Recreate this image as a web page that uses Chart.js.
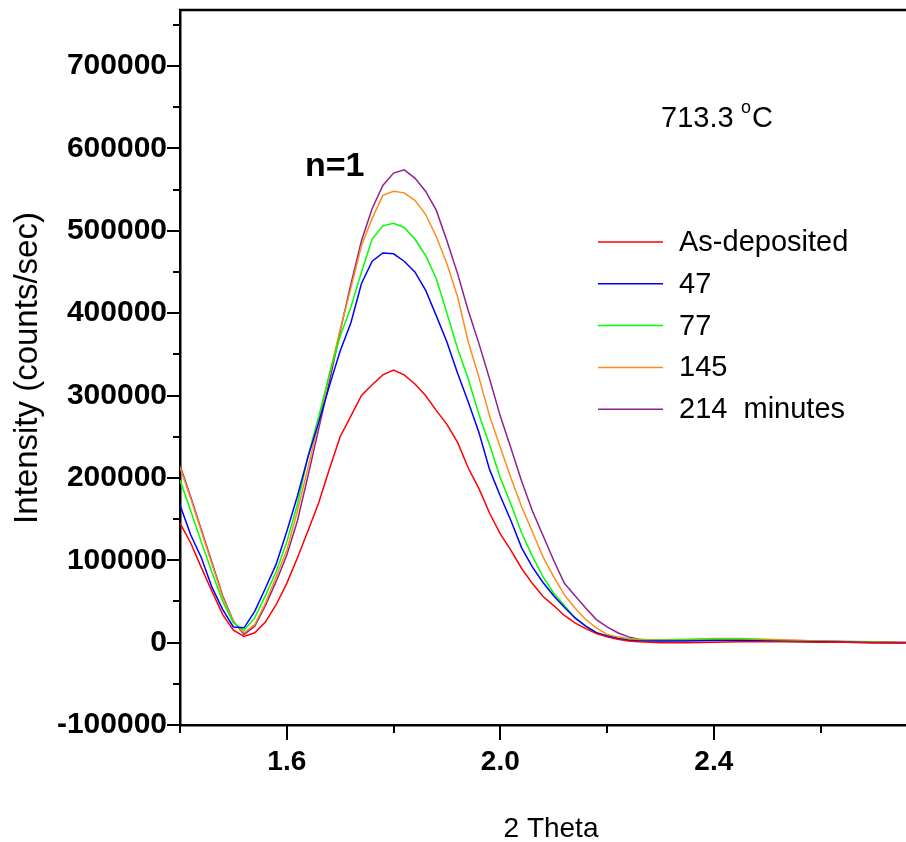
<!DOCTYPE html>
<html>
<head>
<meta charset="utf-8">
<title>Intensity x 2 Theta</title>
<script src="https://cdn.jsdelivr.net/npm/chart.js@4.4.0/dist/chart.umd.min.js"></script>
<style>
    body { margin: 0; background: #ffffff; }
    #grafico { display: block; }
</style>
</head>
<body>
<canvas id="grafico" width="906" height="842"></canvas>
<script>
// Eixo X (2 Theta) - mesma grade para todas as curvas
const doisTheta = [
    1.40, 1.42, 1.44, 1.46, 1.48, 1.50, 1.52, 1.54, 1.56, 1.58,
    1.60, 1.62, 1.64, 1.66, 1.68, 1.70, 1.72, 1.74, 1.76, 1.78,
    1.80, 1.82, 1.84, 1.86, 1.88, 1.90, 1.92, 1.94, 1.96, 1.98,
    2.00, 2.02, 2.04, 2.06, 2.08, 2.10, 2.12, 2.14, 2.16, 2.18,
    2.20, 2.22, 2.24, 2.26, 2.28, 2.30, 2.35, 2.40, 2.45, 2.50,
    2.55, 2.60, 2.65, 2.70, 2.75, 2.76
];

// Intensidade (counts/sec) de cada curva
const asDeposited = [
    145000, 121000, 91000, 62000, 34000, 15000, 7500, 12000, 25000, 46000,
    72000, 103000, 136000, 170000, 211000, 250000, 275000, 300000, 313000, 325000,
    331000, 325000, 314000, 300000, 282000, 265000, 243000, 212000, 187000, 157000,
    132000, 112000, 90000, 72000, 56000, 45000, 33000, 24000, 17000, 11000,
    7000, 4000, 2000, 1000, 500, 0, 0, 500, 1000, 1000,
    1000, 500, 500, 0, 0, 0
];
const min47 = [
    167000, 131000, 103000, 67000, 40000, 19000, 18000, 38000, 66000, 95000,
    135000, 178000, 226000, 268000, 312000, 354000, 388000, 436000, 463000, 473000,
    472000, 463000, 450000, 428000, 397000, 365000, 327000, 292000, 255000, 210000,
    178000, 148000, 115000, 92000, 73000, 57000, 43000, 30000, 20000, 12000,
    8000, 5000, 3000, 2000, 2000, 2000, 2000, 2500, 2500, 2000,
    1500, 1000, 500, 0, 0, 0
];
const min77 = [
    197000, 160000, 122000, 85000, 50000, 24000, 15000, 30000, 57000, 86000,
    122000, 168000, 227000, 275000, 326000, 372000, 407000, 450000, 490000, 506000,
    509000, 504000, 490000, 470000, 442000, 400000, 357000, 320000, 277000, 240000,
    200000, 168000, 133000, 105000, 80000, 60000, 45000, 30000, 20000, 12000,
    8000, 5000, 3500, 3000, 3000, 3000, 3500, 4000, 4000, 3000,
    2000, 1500, 1000, 500, 0, 0
];
const min145 = [
    213000, 175000, 135000, 95000, 55000, 25000, 12000, 22000, 48000, 80000,
    112000, 160000, 213000, 268000, 326000, 380000, 430000, 482000, 515000, 543000,
    548000, 546000, 537000, 520000, 493000, 460000, 420000, 365000, 322000, 275000,
    237000, 200000, 165000, 135000, 104000, 80000, 58000, 42000, 28000, 18000,
    10000, 7000, 5000, 4000, 3500, 3500, 4000, 5000, 5000, 4000,
    3000, 2000, 1000, 500, 0, 0
];
const min214 = [
    215000, 177000, 137000, 97000, 57000, 26000, 10000, 20000, 45000, 74000,
    106000, 148000, 203000, 260000, 317000, 378000, 435000, 488000, 527000, 555000,
    570000, 574000, 564000, 548000, 525000, 488000, 448000, 403000, 363000, 320000,
    275000, 236000, 196000, 160000, 130000, 100000, 72000, 57000, 42000, 28000,
    19000, 12000, 7000, 4000, 3000, 2500, 3000, 3500, 3500, 3000,
    2500, 2000, 1500, 1000, 500, 500
];

const nomesSeries = ['As-deposited', '47', '77', '145', '214  minutes'];
const coresSeries = ['#ff0000', '#0000ff', '#00ff00', '#ff8c1a', '#8e238e'];

// marcas dos eixos
const ticksPrincipaisX = [1.6, 2.0, 2.4];
const ticksSecundariosX = [1.4, 1.8, 2.2, 2.6];
const ticksPrincipaisY = [-100000, 0, 100000, 200000, 300000, 400000, 500000, 600000, 700000];
const ticksSecundariosY = [-50000, 50000, 150000, 250000, 350000, 450000, 550000, 650000, 750000];

const fonte = 'Arial, "Liberation Sans", Helvetica, sans-serif';

function montarPontos(valores) {
    let pontos = [];
    for (let i = 0; i < doisTheta.length; i++) {
        pontos.push({ x: doisTheta[i], y: valores[i] });
    }
    return pontos;
}

// tira o espaco extra que o Chart.js reserva para os rotulos das pontas
function zerarPadding(escala) {
    escala.paddingTop = 0;
    escala.paddingBottom = 0;
    escala.paddingLeft = 0;
    escala.paddingRight = 0;
}

// desenha moldura, marcas, legenda e textos
const pluginDecoracao = {
    id: 'decoracao',
    afterDraw(chart) {
        const ctx = chart.ctx;
        const area = chart.chartArea;
        const eixoX = chart.scales.x;
        const eixoY = chart.scales.y;

        ctx.save();
        ctx.strokeStyle = '#000000';
        ctx.lineWidth = 2.5;
        ctx.beginPath();
        ctx.moveTo(area.left - 1, area.top);
        ctx.lineTo(area.right, area.top);
        ctx.stroke();

        ctx.lineWidth = 2;
        ticksPrincipaisX.concat(ticksSecundariosX).forEach(function (v) {
            let px = Math.round(eixoX.getPixelForValue(v));
            let tam = ticksPrincipaisX.includes(v) ? 15 : 8;
            ctx.beginPath();
            ctx.moveTo(px, area.bottom);
            ctx.lineTo(px, area.bottom + tam);
            ctx.stroke();
        });
        ticksPrincipaisY.concat(ticksSecundariosY).forEach(function (v) {
            let py = Math.round(eixoY.getPixelForValue(v));
            let tam = ticksPrincipaisY.includes(v) ? 13 : 7;
            ctx.beginPath();
            ctx.moveTo(area.left, py);
            ctx.lineTo(area.left - tam, py);
            ctx.stroke();
        });

        // legenda
        ctx.font = '29px ' + fonte;
        ctx.textBaseline = 'middle';
        ctx.textAlign = 'left';
        for (let i = 0; i < nomesSeries.length; i++) {
            let yl = 242 + i * 41.8;
            ctx.strokeStyle = coresSeries[i];
            ctx.lineWidth = 1.5;
            ctx.beginPath();
            ctx.moveTo(598, yl);
            ctx.lineTo(663, yl);
            ctx.stroke();
            ctx.fillStyle = '#000000';
            ctx.fillText(nomesSeries[i], 679, yl + 1);
        }

        // temperatura
        ctx.textBaseline = 'alphabetic';
        ctx.font = '29px ' + fonte;
        ctx.fillText('713.3', 661, 127);
        ctx.font = '18px ' + fonte;
        ctx.fillText('o', 741, 113);
        ctx.font = '29px ' + fonte;
        ctx.fillText('C', 752, 127);

        // rotulo do pico
        ctx.font = 'bold 34px ' + fonte;
        ctx.fillText('n=1', 305, 176);

        // titulos dos eixos
        ctx.font = '28px ' + fonte;
        ctx.textAlign = 'center';
        ctx.fillText('2 Theta', 551, 837);

        ctx.translate(37, 368);
        ctx.rotate(-Math.PI / 2);
        ctx.font = '33px ' + fonte;
        ctx.fillText('Intensity (counts/sec)', 0, 0);
        ctx.restore();
    }
};

function plotarGrafico() {
    const series = [asDeposited, min47, min77, min145, min214];
    let datasets = [];
    for (let i = 0; i < series.length; i++) {
        datasets.push({
            label: nomesSeries[i],
            data: montarPontos(series[i]),
            borderColor: coresSeries[i],
            borderWidth: 1.5,
            pointRadius: 0,
            tension: 0,
            fill: false
        });
    }

    const config = {
        type: 'line',
        data: { datasets: datasets },
        options: {
            responsive: false,
            animation: false,
            layout: { padding: { top: 10, right: 0, left: 0, bottom: 0 } },
            plugins: {
                legend: { display: false },
                tooltip: { enabled: false }
            },
            scales: {
                x: {
                    type: 'linear',
                    min: 1.4,
                    max: 2.76,
                    afterBuildTicks: function (escala) {
                        escala.ticks = ticksPrincipaisX.map(function (v) { return { value: v }; });
                    },
                    afterFit: function (escala) {
                        escala.height = 117;
                        zerarPadding(escala);
                    },
                    border: { display: true, color: '#000000', width: 2.5 },
                    grid: { drawOnChartArea: false, drawTicks: false },
                    ticks: {
                        padding: 20,
                        color: '#000000',
                        font: { family: fonte, size: 28, weight: 'bold' },
                        maxRotation: 0,
                        autoSkip: false,
                        callback: function (valor) {
                            return Number(valor).toFixed(1);
                        }
                    }
                },
                y: {
                    min: -100000,
                    max: 768000,
                    afterBuildTicks: function (escala) {
                        escala.ticks = ticksPrincipaisY.map(function (v) { return { value: v }; });
                    },
                    afterFit: function (escala) {
                        escala.width = 180;
                        zerarPadding(escala);
                    },
                    border: { display: true, color: '#000000', width: 2.5 },
                    grid: { drawOnChartArea: false, drawTicks: false },
                    ticks: {
                        padding: 13,
                        color: '#000000',
                        font: { family: fonte, size: 30, weight: 'bold' },
                        autoSkip: false,
                        callback: function (valor) {
                            return String(valor);
                        }
                    }
                }
            }
        },
        plugins: [pluginDecoracao]
    };

    var ctx = document.getElementById('grafico').getContext('2d');
    let myChart = new Chart(ctx, config);
    console.log('Grafico plotado', myChart.chartArea);
}

plotarGrafico();
</script>
</body>
</html>
